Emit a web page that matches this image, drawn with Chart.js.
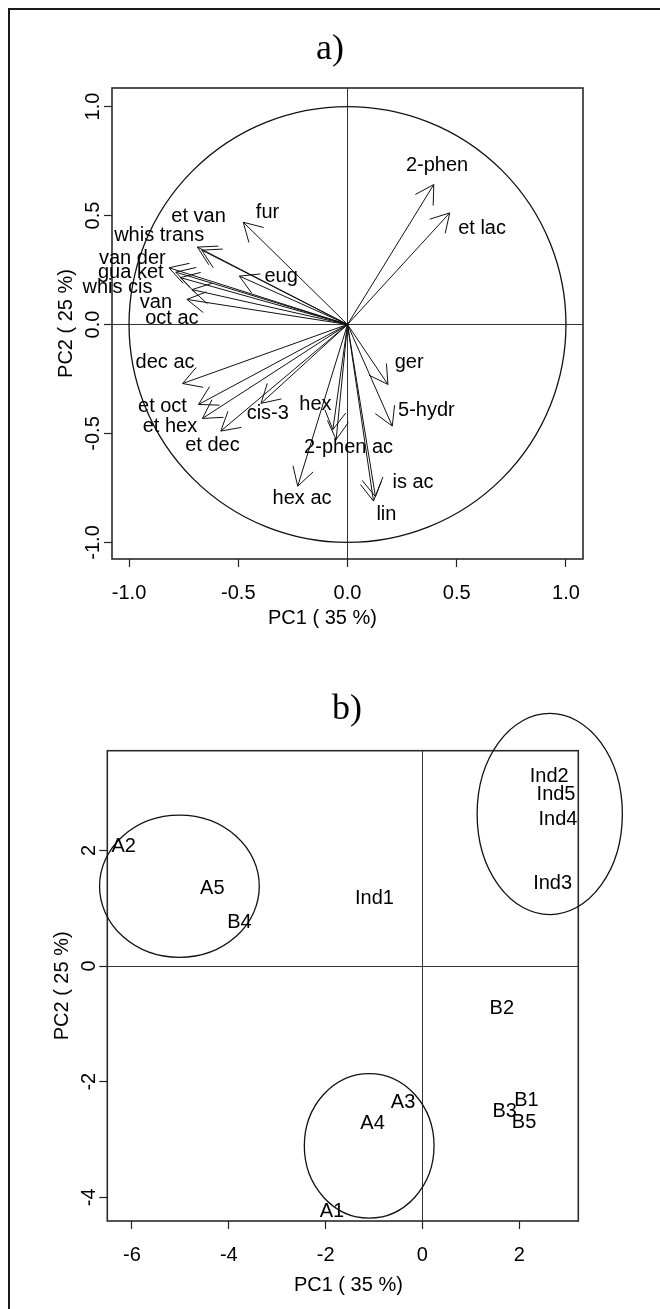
<!DOCTYPE html>
<html>
<head>
<meta charset="utf-8">
<script src="https://cdn.jsdelivr.net/npm/chart.js@4.4.1/dist/chart.umd.min.js"></script>
<style>
  html, body { margin: 0; padding: 0; background: #fff; }
  #page  { position: relative; width: 660px; height: 1309px; overflow: hidden; }
  #frame { position: absolute; left: 8px; top: 8px; width: 700px; height: 1400px;
           border-top: 2px solid #1a1a1a; border-left: 2px solid #1a1a1a; }
  #chartA { position: absolute; left: 0; top: 0; }
  #chartB { position: absolute; left: 0; top: 660px; }
</style>
</head>
<body>
<div id="page">
  <div id="frame"></div>
  <canvas id="chartA" width="660" height="660"></canvas>
  <canvas id="chartB" width="660" height="649"></canvas>
</div>
<script>
"use strict";
/* PCA figure: a) variable loadings, b) sample scores */

// ── Panel a: loadings (arrow tips) and where each name sits ──
const VAR_NAMES = [
  "2-phen", "et lac", "fur", "et van", "whis trans", "van der", "gua ket", "whis cis",
  "van", "oct ac", "eug", "dec ac", "et oct", "et hex", "et dec", "cis-3",
  "hex", "2-phen ac", "hex ac", "lin", "is ac", "ger", "5-hydr"
];
const LOAD_PC1 = [
  0.395, 0.468, -0.477, -0.687, -0.667, -0.817, -0.786, -0.765,
  -0.735, -0.712, -0.495, -0.755, -0.682, -0.664, -0.580, -0.396,
  -0.067, -0.052, -0.228, 0.119, 0.128, 0.185, 0.205
];
const LOAD_PC2 = [
  0.642, 0.512, 0.469, 0.355, 0.341, 0.260, 0.240, 0.215,
  0.115, 0.160, 0.222, -0.271, -0.367, -0.431, -0.489, -0.362,
  -0.482, -0.528, -0.742, -0.810, -0.790, -0.275, -0.466
];
const NAME_PC1 = [
  0.410, 0.616, -0.366, -0.682, -0.862, -0.985, -0.992, -1.053,
  -0.877, -0.804, -0.304, -0.835, -0.847, -0.813, -0.618, -0.365,
  -0.147, 0.005, -0.208, 0.178, 0.300, 0.282, 0.361
];
const NAME_PC2 = [
  0.729, 0.440, 0.512, 0.494, 0.408, 0.303, 0.240, 0.168,
  0.102, 0.026, 0.222, -0.176, -0.378, -0.469, -0.555, -0.408,
  -0.367, -0.564, -0.798, -0.872, -0.726, -0.176, -0.393
];

// ── Panel b: sample scores and group ellipses ──
const SAMPLES   = ["A1", "A2", "A3", "A4", "A5", "B1", "B2", "B3", "B4", "B5",
                   "Ind1", "Ind2", "Ind3", "Ind4", "Ind5"];
const SCORE_PC1 = [-1.87, -6.17, -0.40, -1.03, -4.34, 2.15, 1.64, 1.70, -3.78, 2.10,
                   -0.99, 2.62, 2.69, 2.80, 2.76];
const SCORE_PC2 = [-4.25, 2.06, -2.36, -2.72, 1.34, -2.32, -0.73, -2.52, 0.75, -2.70,
                   1.17, 3.28, 1.43, 2.53, 2.96];
const GROUP_CX = [-5.02, 2.63, -1.10];
const GROUP_CY = [1.38, 2.63, -3.11];
const GROUP_RX = [1.65, 1.50, 1.34];
const GROUP_RY = [1.23, 1.74, 1.25];

const X_TITLE = "PC1 ( 35 %)";
const Y_TITLE = "PC2 ( 25 %)";

// ── shared styling ──
const SANS  = "'Liberation Sans', Arial, sans-serif";
const SERIF = "'Liberation Serif', 'Times New Roman', serif";
const TXT   = { family: SANS, size: 20, weight: "normal" };
const HEAD  = 21;           // arrowhead barb length, px
const INK   = "#111";

function zeroLine(c) {
  return (c.tick && c.tick.value === 0) ? "#333" : "rgba(0,0,0,0)";
}

function xAxis(o) {
  return {
    type: "linear", position: "bottom", min: o.min, max: o.max,
    afterFit: s => { s.height = o.height; },
    border: { display: false },
    grid: { drawOnChartArea: true, drawTicks: true, tickLength: 8, tickColor: "#222",
            tickWidth: 1.2, color: zeroLine, lineWidth: 1 },
    ticks: { stepSize: o.step, includeBounds: false, autoSkip: false, minRotation: 0,
             maxRotation: 0, padding: o.pad, color: "#000", font: TXT, callback: o.fmt },
    title: { display: true, text: o.title, color: "#000", font: TXT,
             padding: { top: 0, bottom: o.titlePad } }
  };
}

function yAxis(o) {
  return {
    type: "linear", position: "left", min: o.min, max: o.max,
    afterFit: s => { s.width = o.width; },
    border: { display: false },
    grid: { drawOnChartArea: true, drawTicks: true, tickLength: 8, tickColor: "#222",
            tickWidth: 1.2, color: zeroLine, lineWidth: 1 },
    ticks: { stepSize: o.step, includeBounds: false, autoSkip: false, minRotation: 90,
             maxRotation: 90, crossAlign: "center", padding: o.pad, color: "#000",
             font: TXT, callback: o.fmt },
    title: { display: true, text: Y_TITLE, color: "#000", font: TXT,
             padding: { top: o.titlePad, bottom: 0 } }
  };
}

// spacer on the right so the panel letter centres where the original has it
function spacer(w) {
  return {
    type: "linear", position: "right", display: true, min: 0, max: 1,
    afterFit: s => { s.width = w; },
    ticks: { display: false }, grid: { display: false, drawTicks: false },
    border: { display: false }
  };
}

const framePlugin = {
  id: "frame",
  afterDatasetsDraw(chart) {
    const { ctx, chartArea: a } = chart;
    ctx.save();
    ctx.strokeStyle = "#2a2a2a";
    ctx.lineWidth = 1.6;
    ctx.strokeRect(a.left, a.top, a.right - a.left, a.bottom - a.top);
    ctx.restore();
  }
};

function drawNames(chart, ctx) {
  ctx.fillStyle = "#000";
  ctx.font = `20px ${SANS}`;
  ctx.textAlign = "center";
  ctx.textBaseline = "middle";
  chart.data.datasets.forEach((ds, i) => {
    if (ds.kind !== "names") return;
    chart.getDatasetMeta(i).data.forEach((pt, j) => {
      ctx.fillText(ds.names[j], pt.x, pt.y);
    });
  });
}

const loadingsPlugin = {
  id: "loadings",
  afterDatasetsDraw(chart) {
    const { ctx, scales: { x, y } } = chart;
    ctx.save();
    // correlation circle
    const cx = x.getPixelForValue(0), cy = y.getPixelForValue(0);
    ctx.strokeStyle = INK;
    ctx.lineWidth = 1.3;
    ctx.beginPath();
    ctx.ellipse(cx, cy, Math.abs(x.getPixelForValue(1) - cx),
                Math.abs(y.getPixelForValue(1) - cy), 0, 0, 2 * Math.PI);
    ctx.stroke();
    // arrowheads
    ctx.lineWidth = 1;
    chart.data.datasets.forEach((ds, i) => {
      if (ds.kind !== "arrow") return;
      const [p0, p1] = chart.getDatasetMeta(i).data;
      const ang = Math.atan2(p1.y - p0.y, p1.x - p0.x);
      ctx.beginPath();
      ctx.moveTo(p1.x - HEAD * Math.cos(ang - Math.PI / 6), p1.y - HEAD * Math.sin(ang - Math.PI / 6));
      ctx.lineTo(p1.x, p1.y);
      ctx.lineTo(p1.x - HEAD * Math.cos(ang + Math.PI / 6), p1.y - HEAD * Math.sin(ang + Math.PI / 6));
      ctx.stroke();
    });
    drawNames(chart, ctx);
    ctx.restore();
  }
};

const scoresPlugin = {
  id: "scores",
  afterDatasetsDraw(chart) {
    const { ctx, scales: { x, y } } = chart;
    ctx.save();
    ctx.strokeStyle = INK;
    ctx.lineWidth = 1.3;
    GROUP_CX.forEach((gx, k) => {
      const px = x.getPixelForValue(gx), py = y.getPixelForValue(GROUP_CY[k]);
      ctx.beginPath();
      ctx.ellipse(px, py,
        Math.abs(x.getPixelForValue(gx + GROUP_RX[k]) - px),
        Math.abs(y.getPixelForValue(GROUP_CY[k] + GROUP_RY[k]) - py),
        0, 0, 2 * Math.PI);
      ctx.stroke();
    });
    drawNames(chart, ctx);
    ctx.restore();
  }
};

const baseOptions = {
  responsive: false,
  devicePixelRatio: 1,
  animation: false,
  events: [],
  plugins: { legend: { display: false }, tooltip: { enabled: false } }
};

// ── a) loadings ──
const arrowSets = VAR_NAMES.map((name, i) => ({
  kind: "arrow",
  label: name,
  showLine: true,
  data: [{ x: 0, y: 0 }, { x: LOAD_PC1[i], y: LOAD_PC2[i] }],
  borderColor: INK, borderWidth: 1, pointRadius: 0, clip: false
}));

new Chart(document.getElementById("chartA"), {
  type: "scatter",
  data: {
    datasets: [
      ...arrowSets,
      { kind: "names", names: VAR_NAMES, pointRadius: 0, clip: false,
        data: VAR_NAMES.map((_, i) => ({ x: NAME_PC1[i], y: NAME_PC2[i] })) }
    ]
  },
  options: {
    ...baseOptions,
    layout: { padding: { top: 10, left: 20, right: 20, bottom: 0 } },
    plugins: {
      ...baseOptions.plugins,
      title: { display: true, text: "a)", color: "#000",
               font: { family: SERIF, size: 36, weight: "normal" },
               padding: { top: 18.4, bottom: 16.4 } }
    },
    scales: {
      x: xAxis({ min: -1.078, max: 1.078, step: 0.5, height: 101, pad: 14, titlePad: 30,
                 fmt: v => v.toFixed(1), title: X_TITLE + "         " }),
      y: yAxis({ min: -1.076, max: 1.085, step: 0.5, width: 92, pad: -6.7, titlePad: 34,
                 fmt: v => v.toFixed(1) }),
      yr: spacer(57)
    }
  },
  plugins: [framePlugin, loadingsPlugin]
});

// ── b) scores ──
new Chart(document.getElementById("chartB"), {
  type: "scatter",
  data: {
    datasets: [
      { kind: "names", names: SAMPLES, pointRadius: 0, clip: false,
        data: SAMPLES.map((_, i) => ({ x: SCORE_PC1[i], y: SCORE_PC2[i] })) }
    ]
  },
  options: {
    ...baseOptions,
    layout: { padding: { top: 10, left: 35.7, right: 1.7, bottom: 0 } },
    plugins: {
      ...baseOptions.plugins,
      title: { display: true, text: "b)", color: "#000",
               font: { family: SERIF, size: 36, weight: "normal" },
               padding: { top: 18.4, bottom: 19.1 } }
    },
    scales: {
      x: xAxis({ min: -6.51, max: 3.22, step: 2, height: 88, pad: 14, titlePad: 12,
                 fmt: v => String(v), title: "  " + X_TITLE }),
      y: yAxis({ min: -4.41, max: 3.725, step: 2, width: 71.6, pad: 1.4, titlePad: 14.3,
                 fmt: v => String(v) }),
      yr: spacer(80)
    }
  },
  plugins: [framePlugin, scoresPlugin]
});
</script>
</body>
</html>
